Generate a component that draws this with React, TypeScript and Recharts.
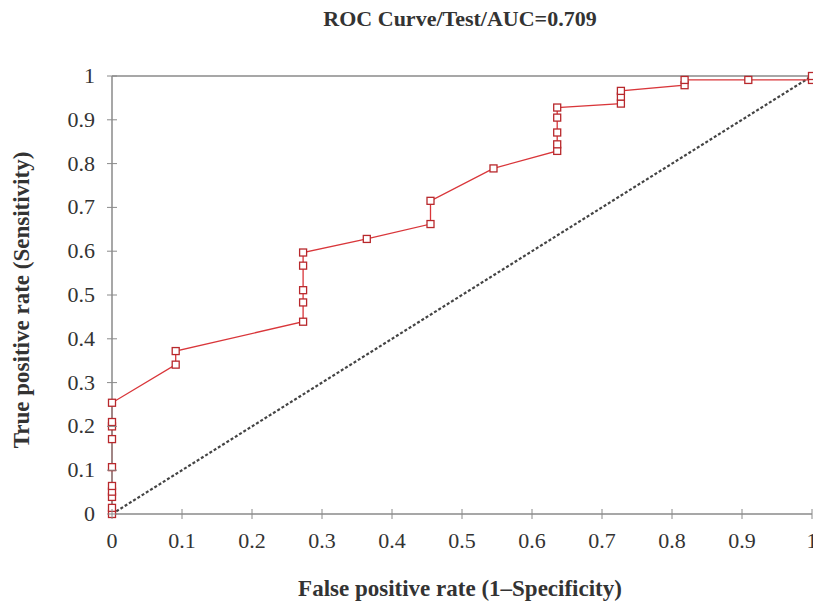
import { LineChart, Line, XAxis, YAxis, ReferenceLine } from 'recharts';

const fpr = [
  0, 0, 0, 0, 0, 0, 0, 0, 0, 0,
  0.091, 0.091,
  0.273, 0.273, 0.273, 0.273, 0.273,
  0.364,
  0.455, 0.455,
  0.545,
  0.636, 0.636, 0.636, 0.636, 0.636,
  0.727, 0.727, 0.727,
  0.818, 0.818,
  0.909,
  1, 1,
];
const tpr = [
  0, 0.014, 0.039, 0.051, 0.064, 0.107, 0.171, 0.2, 0.21, 0.254,
  0.341, 0.372,
  0.439, 0.483, 0.511, 0.567, 0.597,
  0.628,
  0.662, 0.715,
  0.789,
  0.829, 0.844, 0.871, 0.905, 0.928,
  0.937, 0.953, 0.966,
  0.979, 0.991,
  0.991,
  0.991, 1,
];
const ticks = [0, 0.1, 0.2, 0.3, 0.4, 0.5, 0.6, 0.7, 0.8, 0.9, 1];
const chanceLine = [
  { x: 0, y: 0 },
  { x: 1, y: 1 },
];

const data = fpr.map((x, i) => ({ x, y: tpr[i] }));

const FONT = '"Liberation Serif", "DejaVu Serif", serif';
const AXIS = '#8a8a8a';

function XTick({ x, y, payload }: any) {
  return (
    <g>
      <line x1={x} x2={x} y1={y - 5} y2={y + 5} stroke={AXIS} />
      <text x={x} y={y + 34} textAnchor="middle" fill="#333" style={{ fontFamily: FONT, fontSize: 22 }}>
        {payload.value}
      </text>
    </g>
  );
}

function YTick({ x, y, payload }: any) {
  return (
    <g>
      <line x1={x - 5} x2={x + 5} y1={y} y2={y} stroke={AXIS} />
      <text x={x - 17} y={y + 7} textAnchor="end" fill="#333" style={{ fontFamily: FONT, fontSize: 22 }}>
        {payload.value}
      </text>
    </g>
  );
}

function SquareDot({ cx, cy }: any) {
  return <rect x={cx - 3.5} y={cy - 3.5} width={7} height={7} fill="#fff" stroke="#b8282c" strokeWidth={1.3} />;
}

export default function App() {
  return (
    <div style={{ position: 'absolute', left: 0, top: 0, width: 813, height: 603, background: '#fff' }}>
      <LineChart width={813} height={603} data={data} margin={{ top: 76, right: 1, bottom: 0, left: 0 }}>
        <XAxis
          dataKey="x"
          type="number"
          domain={[0, 1]}
          ticks={ticks}
          height={89}
          tickSize={0}
          tickMargin={0}
          tickLine={false}
          tick={<XTick />}
          stroke={AXIS}
          strokeWidth={1.5}
          interval={0}
        />
        <YAxis
          type="number"
          domain={[0, 1]}
          ticks={ticks}
          width={112}
          tickSize={0}
          tickMargin={0}
          tickLine={false}
          tick={<YTick />}
          stroke={AXIS}
          strokeWidth={1.5}
          interval={0}
        />
        <ReferenceLine y={1} stroke={AXIS} strokeWidth={1.5} />
        <ReferenceLine segment={chanceLine} stroke="#444" strokeWidth={2.2} strokeDasharray="3 2" />
        <Line
          dataKey="y"
          type="linear"
          stroke="#d9363a"
          strokeWidth={1.3}
          dot={<SquareDot />}
          activeDot={false}
          isAnimationActive={false}
        />
      </LineChart>
      <div
        style={{
          position: 'absolute',
          top: 6,
          left: 0,
          width: 920,
          textAlign: 'center',
          fontFamily: FONT,
          fontWeight: 'bold',
          fontSize: 22,
          color: '#333',
        }}
      >
        ROC Curve/Test/AUC=0.709
      </div>
      <div
        style={{
          position: 'absolute',
          top: 576,
          left: 0,
          width: 920,
          textAlign: 'center',
          fontFamily: FONT,
          fontWeight: 'bold',
          fontSize: 23,
          color: '#333',
        }}
      >
        False positive rate (1–Specificity)
      </div>
      <div
        style={{
          position: 'absolute',
          left: 22,
          top: 300,
          transform: 'translate(-50%, -50%) rotate(-90deg)',
          whiteSpace: 'nowrap',
          fontFamily: FONT,
          fontWeight: 'bold',
          fontSize: 23,
          color: '#333',
        }}
      >
        True positive rate (Sensitivity)
      </div>
    </div>
  );
}
